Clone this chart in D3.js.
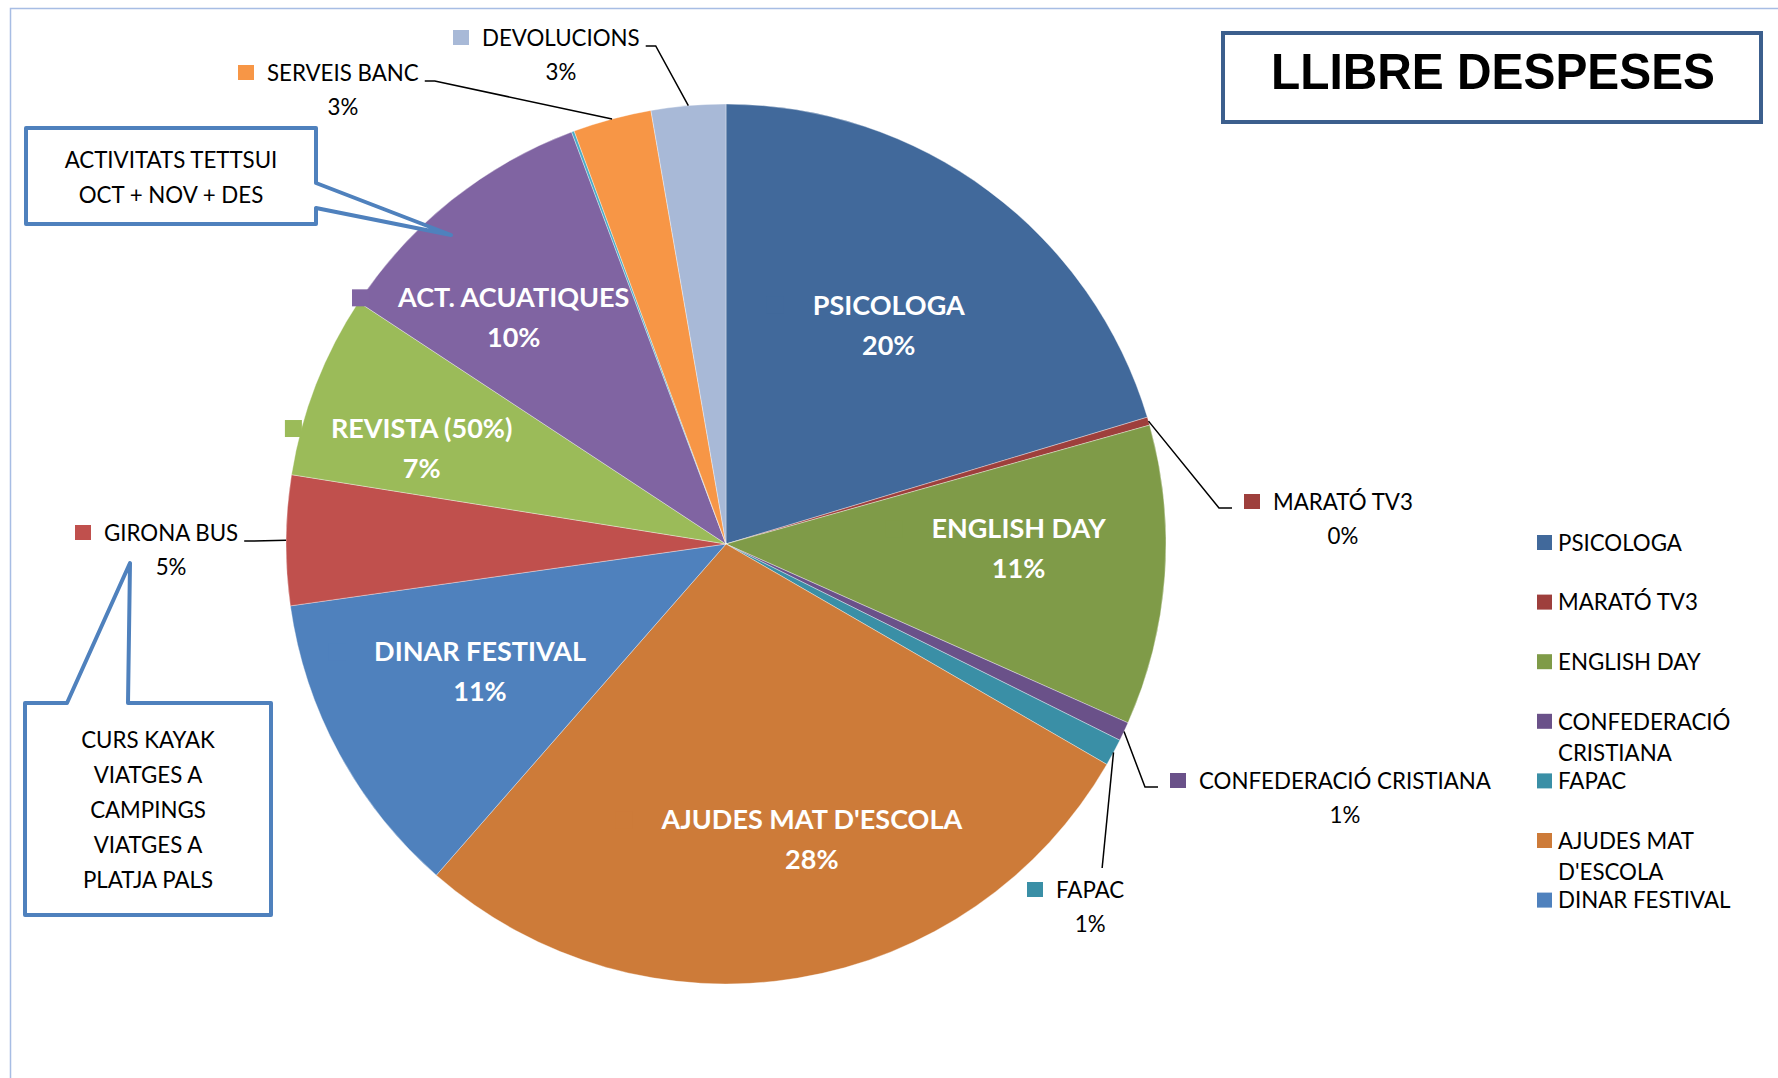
<!DOCTYPE html>
<html>
<head>
<meta charset="utf-8">
<script src="https://cdn.jsdelivr.net/npm/d3@7"></script>
<style>
  body { margin: 0; background: #fff; }
  svg { display: block; }
</style>
</head>
<body>
<div id="chart"></div>
<script>
// slices, clockwise from 12 o'clock
const categories = ["PSICOLOGA", "MARATÓ TV3", "ENGLISH DAY", "CONFEDERACIÓ CRISTIANA", "FAPAC",
    "AJUDES MAT D'ESCOLA", "DINAR FESTIVAL", "GIRONA BUS", "REVISTA (50%)", "ACT. ACUATIQUES",
    "(sense etiqueta)", "SERVEIS BANC", "DEVOLUCIONS"];
const values = [2050, 30, 1110, 70, 100, 2830, 1140, 480, 680, 1010, 10, 290, 275];
const colors = ["#41699b", "#9e3f3c", "#7f9b48", "#6a5189", "#3a8fa6", "#cd7b39", "#4f81bd",
    "#c0504d", "#9bbb59", "#8064a2", "#4bacc6", "#f79646", "#a8b9d7"];
const legendItems = categories.slice(0, 7);
const title = "LLIBRE DESPESES";
const note1 = ["ACTIVITATS TETTSUI", "OCT + NOV + DES"];
const note2 = ["CURS KAYAK", "VIATGES A", "CAMPINGS", "VIATGES A", "PLATJA PALS"];

const width = 1778, height = 1078;
const cx = 726, cy = 544, radius = 440;
const font = "Lato, 'Open Sans', sans-serif";
const labelSize = 22.3;
const boldSize = 27;

// label placement (layout only)
const insideLabels = {
    "PSICOLOGA": [0, 0.62],
    "ENGLISH DAY": [-3.2, 0.665],
    "AJUDES MAT D'ESCOLA": [-6.8, 0.70],
    "DINAR FESTIVAL": [1, 0.63],
    "REVISTA (50%)": [-3.8, 0.725],
    "ACT. ACUATIQUES": [-4.6, 0.705]
};
const outsideLabels = {
    "MARATÓ TV3": { x: 1273, y: 502, side: "right" },
    "CONFEDERACIÓ CRISTIANA": { x: 1199, y: 781, side: "right" },
    "FAPAC": { x: 1056, y: 890, side: "below" },
    "GIRONA BUS": { x: 104, y: 533, side: "left" },
    "SERVEIS BANC": { x: 267, y: 73, side: "left" },
    "DEVOLUCIONS": { x: 482, y: 38, side: "left" }
};

const svg = d3.select("#chart").append("svg")
    .attr("width", width)
    .attr("height", height);

svg.append("rect")
    .attr("x", 10.5).attr("y", 8.5)
    .attr("width", width).attr("height", height)
    .attr("fill", "#fff")
    .attr("stroke", "#a7bde4")
    .attr("stroke-width", 1.5);

const data = categories.map((c, i) => ({ name: c, value: values[i], color: colors[i] }));
const total = d3.sum(values);
const pct = v => Math.round(v / total * 100) + "%";
const arcs = d3.pie().sort(null).value(d => d.value)(data);
const arc = d3.arc().innerRadius(0).outerRadius(radius);

const polar = (a, r) => [cx + r * Math.sin(a), cy - r * Math.cos(a)];
const midAngle = d => (d.startAngle + d.endAngle) / 2;

svg.append("g")
    .attr("transform", "translate(" + cx + "," + cy + ")")
    .selectAll("path")
    .data(arcs)
    .enter().append("path")
    .attr("d", arc)
    .attr("fill", d => d.data.color)
    .attr("stroke", "#fff")
    .attr("stroke-width", 0.6)
    .attr("stroke-opacity", 0.6);

// labels inside the slices
arcs.filter(d => insideLabels[d.data.name]).forEach(d => {
    const [da, rf] = insideLabels[d.data.name];
    const [x, y] = polar(midAngle(d) + da * Math.PI / 180, rf * radius);
    const lg = svg.append("g").attr("transform", "translate(" + x + "," + y + ")");
    const t1 = lg.append("text")
        .attr("text-anchor", "middle")
        .attr("y", -20).attr("dy", "0.35em")
        .attr("font-family", font).attr("font-weight", "bold")
        .attr("font-size", boldSize).attr("fill", "#fff")
        .text(d.data.name);
    lg.append("text")
        .attr("text-anchor", "middle")
        .attr("y", 20).attr("dy", "0.35em")
        .attr("font-family", font).attr("font-weight", "bold")
        .attr("font-size", boldSize).attr("fill", "#fff")
        .text(pct(d.data.value));
    const w = t1.node().getComputedTextLength();
    lg.insert("rect", "text")
        .attr("x", -w / 2 - 46).attr("y", -28.5)
        .attr("width", 17).attr("height", 17)
        .attr("fill", d.data.color);
});

// labels outside with leader lines
arcs.filter(d => outsideLabels[d.data.name]).forEach(d => {
    const p = outsideLabels[d.data.name];
    const lg = svg.append("g");
    const t1 = lg.append("text")
        .attr("x", p.x).attr("y", p.y).attr("dy", "0.35em")
        .attr("font-family", font).attr("font-size", labelSize).attr("fill", "#000")
        .text(d.data.name);
    const w = t1.node().getComputedTextLength();
    lg.append("text")
        .attr("x", p.x + w / 2).attr("y", p.y + 34).attr("dy", "0.35em")
        .attr("text-anchor", "middle")
        .attr("font-family", font).attr("font-size", labelSize).attr("fill", "#000")
        .text(pct(d.data.value));
    const keyX = p.x - 29;
    lg.append("rect")
        .attr("x", keyX).attr("y", p.y - 8)
        .attr("width", 16).attr("height", 15)
        .attr("fill", d.data.color);

    const start = polar(midAngle(d), radius);
    let pts;
    if (p.side === "right") {
        pts = [start, [keyX - 25, p.y + 6], [keyX - 12, p.y + 6]];
    } else if (p.side === "left") {
        pts = [start, [p.x + w + 16, p.y + 8], [p.x + w + 6, p.y + 8]];
    } else {
        pts = [start, [p.x + w / 2 + 12, p.y - 22]];
    }
    svg.append("path")
        .attr("d", d3.line()(pts))
        .attr("fill", "none")
        .attr("stroke", "#000")
        .attr("stroke-width", 1.5);
});

// title box
svg.append("rect")
    .attr("x", 1223).attr("y", 33)
    .attr("width", 538).attr("height", 89)
    .attr("fill", "#fff")
    .attr("stroke", "#3c5f8d")
    .attr("stroke-width", 4);
svg.append("text")
    .attr("x", 1493).attr("y", 89)
    .attr("text-anchor", "middle")
    .attr("font-family", "'Liberation Sans', Arial, sans-serif")
    .attr("font-weight", "bold")
    .attr("font-size", 50)
    .attr("textLength", 444)
    .attr("lengthAdjust", "spacingAndGlyphs")
    .text(title);

// legend (first entries only, as in the original)
const legend = svg.append("g").attr("class", "legend");
legendItems.forEach((name, i) => {
    const y = 543 + i * 59.6;
    const item = legend.append("g");
    item.append("rect")
        .attr("x", 1537).attr("y", y - 8)
        .attr("width", 15).attr("height", 15)
        .attr("fill", colors[i]);
    const t = item.append("text")
        .attr("x", 1558).attr("y", y).attr("dy", "0.35em")
        .attr("font-family", font).attr("font-size", labelSize).attr("fill", "#000")
        .text(name);
    if (t.node().getComputedTextLength() > 210) {
        const words = name.split(" ");
        let line1 = [];
        for (const word of words) {
            t.text([...line1, word].join(" "));
            if (t.node().getComputedTextLength() > 210 && line1.length) break;
            line1.push(word);
        }
        const line2 = words.slice(line1.length);
        t.text(line1.join(" "));
        item.append("text")
            .attr("x", 1558).attr("y", y + 31).attr("dy", "0.35em")
            .attr("font-family", font).attr("font-size", labelSize).attr("fill", "#000")
            .text(line2.join(" "));
    }
});

// callouts
const callouts = [
    { path: "M26,128 H316 V183 L451,235 L316,208 V224 H26 Z", lines: note1, x: 171, y: 160, step: 35 },
    { path: "M25,703 H67 L130,563 L128,703 H271 V915 H25 Z", lines: note2, x: 148, y: 740, step: 35 }
];
callouts.forEach(c => {
    svg.append("path")
        .attr("d", c.path)
        .attr("fill", "#fff")
        .attr("stroke", "#4f81bd")
        .attr("stroke-width", 4)
        .attr("stroke-linejoin", "round");
    c.lines.forEach((l, i) => {
        svg.append("text")
            .attr("x", c.x).attr("y", c.y + i * c.step).attr("dy", "0.35em")
            .attr("text-anchor", "middle")
            .attr("font-family", font).attr("font-size", labelSize).attr("fill", "#000")
            .text(l);
    });
});
</script>
</body>
</html>
